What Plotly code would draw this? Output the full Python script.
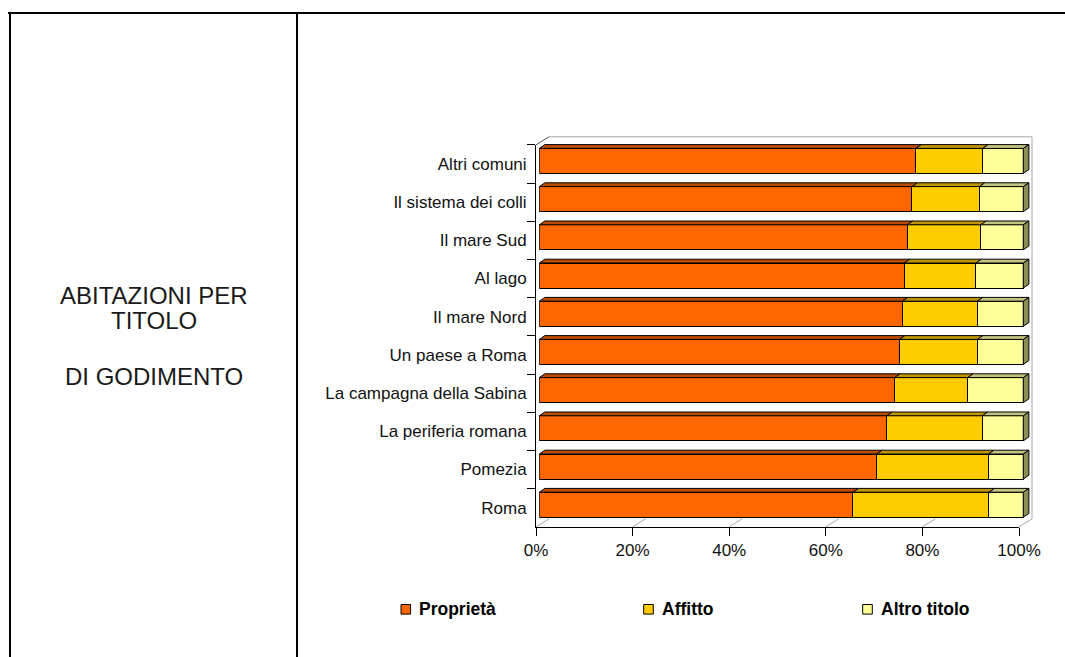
import plotly.graph_objects as go

# ---- data -------------------------------------------------------------
categories = [
    "Altri comuni", "Il sistema dei colli", "Il mare Sud", "Al lago",
    "Il mare Nord", "Un paese a Roma", "La campagna della Sabina",
    "La periferia romana", "Pomezia", "Roma",
]
proprieta = [77.8, 77.0, 76.0, 75.4, 75.0, 74.4, 73.4, 71.8, 69.7, 64.8]
affitto = [13.8, 13.9, 15.2, 14.8, 15.5, 16.1, 15.1, 19.7, 23.1, 28.1]
altro_titolo = [8.4, 9.1, 8.8, 9.8, 9.5, 9.5, 11.5, 8.5, 7.2, 7.1]
series_names = ["Proprietà", "Affitto", "Altro titolo"]
x_ticks = [0, 20, 40, 60, 80, 100]
x_tick_labels = ["0%", "20%", "40%", "60%", "80%", "100%"]
panel_lines = ["ABITAZIONI PER", "TITOLO", "DI GODIMENTO"]

# ---- styling ------------------------------------------------------------
FONT = "Liberation Sans, Arial, sans-serif"
TEXT = "#111111"
FRONT_COL = ["#FF6600", "#FFCC00", "#FFFF99"]
TOP_COL = ["#BD4C00", "#C09600", "#C4C480"]
SIDE_COL = "#8C8C55"
WALL_COL = "#A6A6A6"

W, H = 1065, 657


def px(x):
    return x / W


def py(y):
    return 1 - y / H


n = len(categories)

# front plane of the 3-D box (pixels)
FX0, FX1 = 536.0, 1019.0
FTOP, FBOT = 144.8, 526.8
ROW = (FBOT - FTOP) / n
# back wall offset
DX, DY = 13.0, 8.0
BX0, BX1, BTOP, BBOT = FX0 + DX, FX1 + DX, FTOP - DY, FBOT - DY

# bar plane (bars sit slightly behind the front edge)
BAR_X0 = 539.3
BAR_UNIT = 4.84          # pixels per percent
BAR_BOT = FBOT - 3.0
X_MAX = 103.0
Y_TOP = n - 0.3
BAR_W = 25.0 / ROW
FACE_DX = 5.6 / BAR_UNIT
FACE_DY = 3.8 / ROW

fig = go.Figure()

# ---- bars (front faces) -------------------------------------------------
rows = list(range(n))
series = [proprieta[::-1], affitto[::-1], altro_titolo[::-1]]
for s, (name, vals) in enumerate(zip(series_names, series)):
    fig.add_trace(go.Bar(
        x=vals, y=rows, orientation="h", width=BAR_W, name=name,
        marker=dict(color=FRONT_COL[s], line=dict(color="black", width=1)),
        xaxis="x2", yaxis="y2", showlegend=False, hoverinfo="x+name",
    ))

# ---- bar top faces and end faces -----------------------------------------
cum = [0.0] * n
for s, vals in enumerate(series):
    xs, ys = [], []
    for i, v in enumerate(vals):
        a, b = cum[i], cum[i] + v
        yt = i + BAR_W / 2
        xs += [a, b, b + FACE_DX, a + FACE_DX, a, None]
        ys += [yt, yt, yt + FACE_DY, yt + FACE_DY, yt, None]
        cum[i] = b
    fig.add_trace(go.Scatter(
        x=xs, y=ys, mode="lines", fill="toself", fillcolor=TOP_COL[s],
        line=dict(color="black", width=1), xaxis="x2", yaxis="y2",
        showlegend=False, hoverinfo="skip",
    ))

xs, ys = [], []
for i, total in enumerate(cum):
    yb, yt = i - BAR_W / 2, i + BAR_W / 2
    xs += [total, total, total + FACE_DX, total + FACE_DX, total, None]
    ys += [yb, yt, yt + FACE_DY, yb + FACE_DY, yb, None]
fig.add_trace(go.Scatter(
    x=xs, y=ys, mode="lines", fill="toself", fillcolor=SIDE_COL,
    line=dict(color="black", width=1), xaxis="x2", yaxis="y2",
    showlegend=False, hoverinfo="skip",
))

# category axis on the front plane
fig.add_trace(go.Scatter(
    x=[0] * n, y=categories[::-1], mode="markers", marker=dict(opacity=0),
    xaxis="x3", yaxis="y3", showlegend=False, hoverinfo="skip",
))

# ---- axes ---------------------------------------------------------------
hidden = dict(showgrid=False, zeroline=False, showticklabels=False,
              ticks="", showline=False, fixedrange=True, automargin=False)

fig.update_layout(
    width=W, height=H, autosize=False,
    margin=dict(l=0, r=0, t=0, b=0, pad=0, autoexpand=False),
    paper_bgcolor="white",
    plot_bgcolor="rgba(0,0,0,0)",
    barmode="stack",
    showlegend=False,
    font=dict(family=FONT, size=17, color=TEXT),
    # back wall with its gridlines
    xaxis=dict(domain=[px(BX0), px(BX1)], range=[0, 100], anchor="y",
               showgrid=True, gridcolor="#B8B8B8", gridwidth=1,
               tickmode="array", tickvals=x_ticks,
               zeroline=False, showticklabels=False, ticks="",
               showline=False, fixedrange=True, automargin=False),
    yaxis=dict(domain=[py(BBOT), py(BTOP)], range=[0, 1], anchor="x", **hidden),
    # bar plane
    xaxis2=dict(domain=[px(BAR_X0), px(BAR_X0 + X_MAX * BAR_UNIT)],
                range=[0, X_MAX], anchor="y2", **hidden),
    yaxis2=dict(domain=[py(BAR_BOT), py(BAR_BOT - (Y_TOP + 0.5) * ROW)],
                range=[-0.5, Y_TOP], anchor="x2", **hidden),
    # front plane: value axis and category axis
    xaxis3=dict(domain=[px(FX0), px(FX1)], range=[0, 100], anchor="y3",
                tickmode="array", tickvals=x_ticks, ticktext=x_tick_labels,
                ticks="outside", ticklen=8, tickcolor="black", tickwidth=1,
                showline=True, linecolor="black", linewidth=1,
                showgrid=False, zeroline=False, fixedrange=True,
                automargin=False,
                tickfont=dict(family=FONT, size=17, color=TEXT)),
    yaxis3=dict(domain=[py(FBOT), py(FTOP)], anchor="x3", type="category",
                categoryorder="array", categoryarray=categories[::-1],
                range=[-0.5, n - 0.5], tickson="boundaries",
                ticks="outside", ticklen=8, tickcolor="black", tickwidth=1,
                ticklabelstandoff=5,
                showline=True, linecolor="black", linewidth=1,
                showgrid=False, zeroline=False, fixedrange=True,
                automargin=False,
                tickfont=dict(family=FONT, size=17, color=TEXT)),
)

shapes = []


def line(x0, y0, x1, y1, color, width=1, layer="below"):
    shapes.append(dict(type="line", xref="paper", yref="paper",
                       x0=px(x0), y0=py(y0), x1=px(x1), y1=py(y1),
                       line=dict(color=color, width=width), layer=layer))


# box edges: top and right of the back wall, left-wall top edge
line(BX0, BTOP, BX1, BTOP, WALL_COL)
line(BX1, BTOP, BX1, BBOT, WALL_COL)
line(FX0, FTOP, BX0, BTOP, "#555555")
# floor gridlines running from the front edge to the back wall
for t in x_ticks:
    fx = FX0 + (FX1 - FX0) * t / 100
    line(fx, FBOT, fx + DX, BBOT, WALL_COL)

# table frame around the chart
line(8, 13, W, 13, "black", 2, "above")
line(10, 12, 10, H, "black", 2, "above")
line(297, 12, 297, H, "black", 2, "above")

# legend: colour keys and labels
legend_sq = [405.8, 648.5, 867.5]
legend_tx = [417.0, 660.0, 879.0]
LEG_Y = 609.3
annotations = []
for s, name in enumerate(series_names):
    cx = legend_sq[s]
    shapes.append(dict(type="rect", xref="paper", yref="paper",
                       x0=px(cx - 4.8), x1=px(cx + 4.8),
                       y0=py(LEG_Y + 4.8), y1=py(LEG_Y - 4.8),
                       fillcolor=FRONT_COL[s],
                       line=dict(color="black", width=1), layer="above"))
    annotations.append(dict(x=px(legend_tx[s]), y=py(LEG_Y), xref="paper",
                            yref="paper", xanchor="left", yanchor="middle",
                            text="<b>%s</b>" % name, showarrow=False,
                            font=dict(family=FONT, size=17.5, color="#000000")))

# left panel heading
for text, yy in zip(panel_lines, [295.3, 320.0, 376.7]):
    annotations.append(dict(x=px(153.5), y=py(yy), xref="paper", yref="paper",
                            xanchor="center", yanchor="middle", text=text,
                            showarrow=False,
                            font=dict(family=FONT, size=24, color="#1a1a1a")))

fig.update_layout(shapes=shapes, annotations=annotations)

fig.write_html("out.html")
